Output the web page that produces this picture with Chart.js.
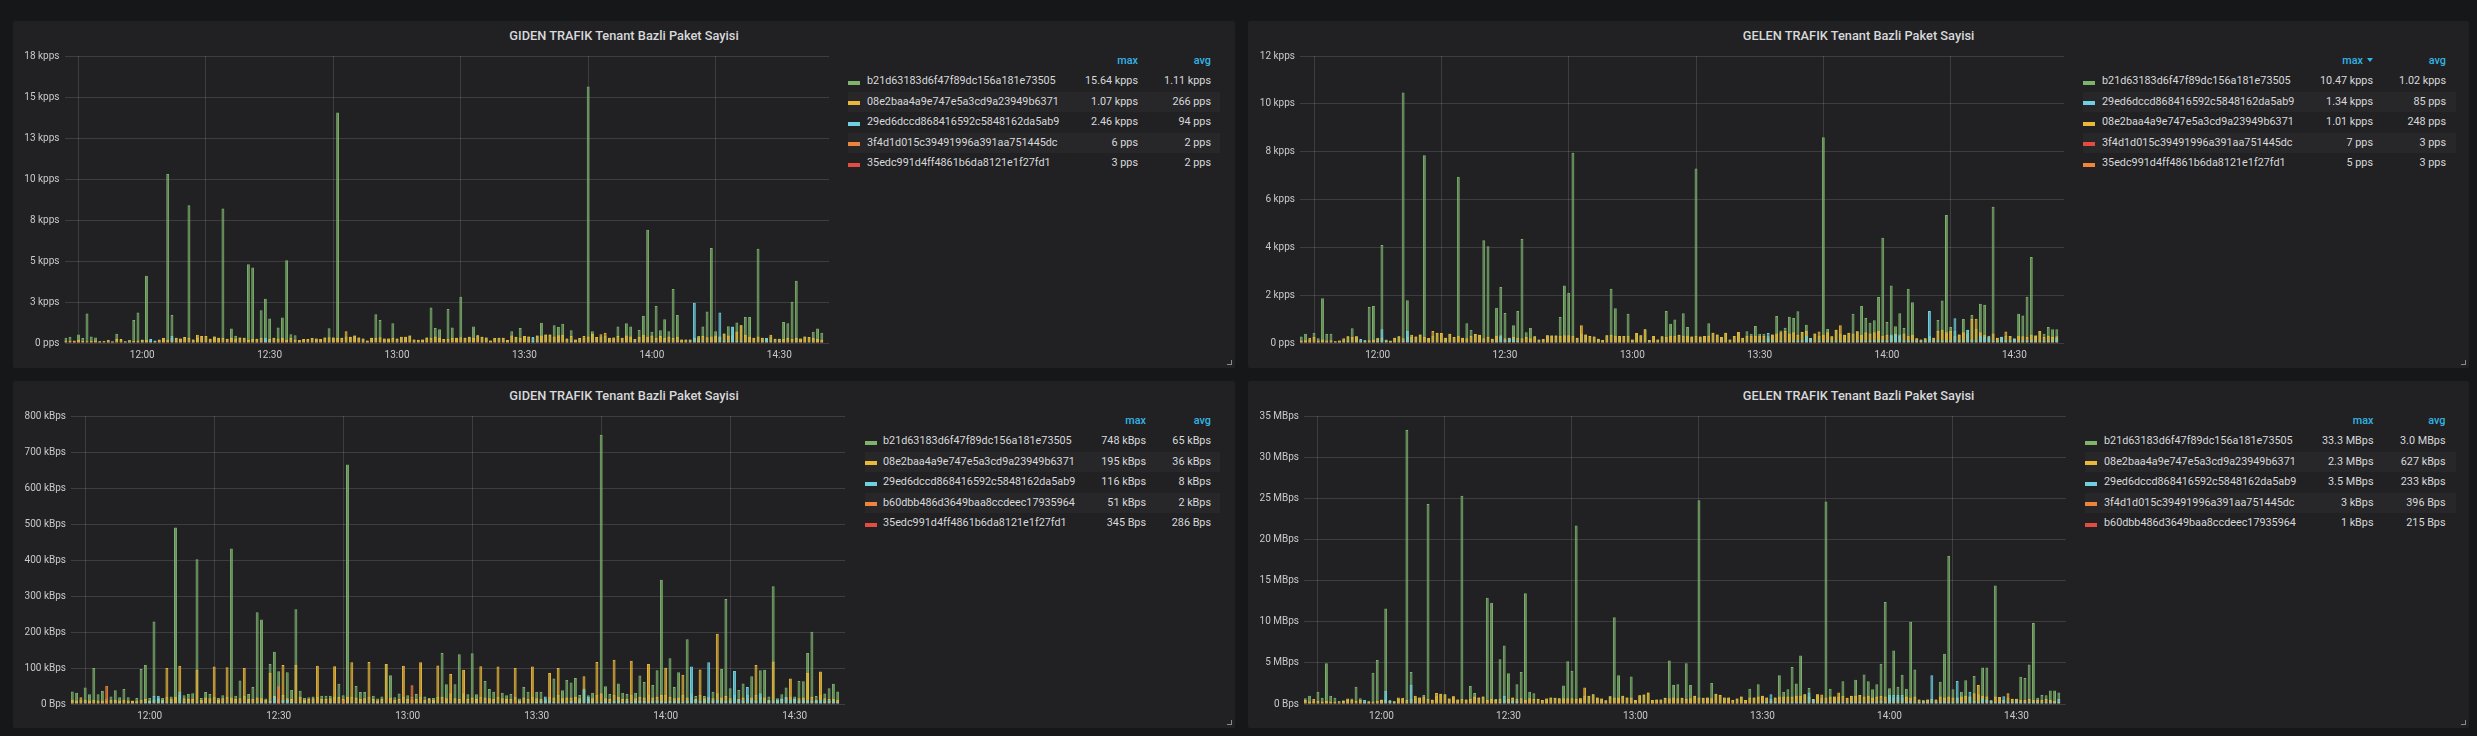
<!DOCTYPE html>
<html>
<head>
<meta charset="utf-8">
<title>Tenant Bazli Paket Sayisi</title>
<script src="https://cdn.jsdelivr.net/npm/chart.js@4.4.1/dist/chart.umd.min.js"></script>
<style>
  html,body{margin:0;padding:0;}
  body{width:2477px;height:736px;background:#161719;position:relative;overflow:hidden;font-family:Roboto,"Noto Sans",sans-serif;color:#d8d9da;}
  .panel{position:absolute;background:#212124;border-radius:2px;}
  .ptitle{position:absolute;left:0;right:0;text-align:center;font-size:12.8px;font-weight:500;color:#d8d9da;line-height:16px;white-space:nowrap;}
  .chart{position:absolute;}
  .lg{position:absolute;font-size:10.8px;line-height:14px;white-space:nowrap;color:#d8d9da;}
  .lg.r{text-align:right;width:200px;}
  .lh{color:#33b5e5;font-weight:500;}
  .rowbg{position:absolute;background:#27272a;height:20px;}
  .sw{position:absolute;width:12px;height:4px;}
  .rz{position:absolute;width:4px;height:4px;border-right:1px solid #8a8a8a;border-bottom:1px solid #8a8a8a;}
  .tri{display:inline-block;width:0;height:0;border-left:3.5px solid transparent;border-right:3.5px solid transparent;border-top:4px solid #33b5e5;margin-left:4px;vertical-align:2px;}
</style>
</head>
<body>
<script>
// ---------------- time axis ----------------
const startTime = '11:42';            // first bar (minute 0)
const xTickLabels = ['12:00','12:30','13:00','13:30','14:00','14:30'];

// ---------------- series names ----------------
const nB21 = 'b21d63183d6f47f89dc156a181e73505';
const n08e = '08e2baa4a9e747e5a3cd9a23949b6371';
const n29e = '29ed6dccd868416592c5848162da5ab9';
const n3f4 = '3f4d1d015c39491996a391aa751445dc';
const n35e = '35edc991d4ff4861b6da8121e1f27fd1';
const nB60 = 'b60dbb486d3649baa8ccdeec17935964';

// ================= Panel 1: GIDEN (pps) =================
const gidenPpsGreen = [
320,380,100,520,300,1800,400,340,120,140,
150,80,560,200,120,180,1400,1860,220,4100,
200,140,220,300,10300,1700,320,280,360,8400,
220,300,420,420,260,400,320,8200,260,880,
440,340,320,4800,4600,260,2000,2700,1500,320,
940,1560,5050,540,480,180,240,240,300,280,
240,340,900,340,14050,320,400,380,460,340,
280,160,320,1750,1400,280,280,1200,280,380,
380,460,220,200,220,340,2160,920,840,240,
2080,940,320,2820,320,380,1000,480,380,340,
160,300,320,320,180,720,380,920,420,400,
300,460,1240,520,520,1080,980,1180,280,780,
220,300,300,15640,720,360,400,450,320,340,
1000,320,1200,1000,240,800,1650,6900,680,2250,
780,1450,720,3300,1700,220,220,220,300,420,
1000,1920,5800,720,400,580,1020,1000,1250,1100,
1580,1580,320,5750,320,300,400,260,260,1280,
1200,2520,3800,280,400,360,680,880,620];
const gidenPpsYellow = [
150,120,150,200,120,100,120,150,90,110,
200,60,250,240,80,100,120,150,200,200,
120,100,200,300,200,300,320,280,360,300,
220,500,420,420,260,400,320,300,260,300,
280,340,320,200,250,260,300,200,250,320,
280,300,200,300,220,180,240,240,300,280,
240,340,350,340,300,320,720,380,460,340,
280,160,320,300,350,280,280,300,280,380,
380,460,220,200,220,340,300,400,300,240,
250,300,320,350,320,380,300,480,380,340,
160,300,320,320,180,450,380,300,420,400,
150,460,450,520,520,400,480,500,280,420,
220,300,420,400,550,360,540,620,320,340,
420,320,450,400,240,380,500,380,450,300,
420,300,400,300,380,220,220,220,300,350,
420,350,400,450,400,580,450,480,700,1070,
500,380,320,400,320,300,500,260,260,250,
300,250,300,280,400,360,300,250,200];
const gidenPpsBlue = [
50,40,60,50,40,50,40,50,60,50,
80,100,50,40,60,80,50,60,100,80,
240,150,80,60,50,420,100,60,50,50,
60,50,40,50,60,50,60,50,40,50,
80,60,50,40,50,60,100,320,120,60,
80,60,50,40,50,60,50,40,50,60,
50,40,60,50,40,50,60,50,40,50,
80,60,50,40,50,60,50,40,50,60,
50,40,60,50,40,50,60,50,40,50,
60,50,40,50,60,50,40,50,60,50,
40,50,60,50,40,50,60,50,40,80,
360,100,60,50,40,60,100,50,60,120,
50,60,80,60,100,50,80,60,50,60,
50,60,80,60,100,80,60,80,100,60,
80,100,60,80,100,60,80,100,2460,120,
100,80,60,100,1860,120,100,980,120,100,
100,80,60,50,100,300,100,80,120,60,
80,60,100,50,60,50,60,80,60];
const gidenPpsOrange = [
2,2,1,2,3,2,2,1,2,2,
2,3,2,1,2,2,2,3,2,2,
1,2,2,2,3,2,2,1,2,2,
2,2,3,2,1,2,2,2,2,3,
2,1,2,2,2,2,3,2,2,1,
2,2,2,3,2,2,1,2,2,2,
6,2,2,1,2,2,3,2,2,2,
1,2,2,2,3,2,2,1,2,2,
2,3,2,2,1,2,2,2,2,3,
2,2,1,2,2,2,3,2,2,2,
1,2,2,3,2,2,2,1,2,2,
3,2,2,2,1,2,2,2,3,2,
2,1,2,2,2,3,2,2,1,2,
2,2,3,2,2,2,1,2,2,2,
3,2,2,1,2,2,2,3,2,2,
2,1,2,2,3,2,2,2,1,2,
2,2,3,2,2,1,2,2,2,2,
3,2,2,1,2,2,2,2,2];
const gidenPpsRed = [
2,2,2,1,2,2,3,2,2,2,
1,2,2,2,2,3,2,2,1,2,
2,2,2,3,2,2,2,1,2,2,
2,3,2,2,2,2,1,2,2,2,
3,2,2,2,1,2,2,2,2,3,
2,2,1,2,2,2,3,2,2,2,
2,1,2,2,3,2,2,2,2,1,
2,2,3,2,2,2,1,2,2,2,
2,3,2,2,1,2,2,2,3,2,
2,2,1,2,2,3,2,2,2,2,
1,2,2,2,3,2,2,2,1,2,
2,3,2,2,2,1,2,2,2,3,
2,2,2,1,2,2,3,2,2,2,
1,2,2,2,3,2,2,1,2,2,
2,2,3,2,2,2,1,2,2,3,
2,2,2,1,2,2,2,3,2,2,
1,2,2,2,3,2,2,2,1,2,
2,3,2,2,2,1,2,2,2];
const gidenPpsTicks  = [0,2500,5000,7500,10000,12500,15000,17500];
const gidenPpsTickLabels = ['0 pps','3 kpps','5 kpps','8 kpps','10 kpps','13 kpps','15 kpps','18 kpps'];
const gidenPpsLegendNames = [nB21, n08e, n29e, n3f4, n35e];
const gidenPpsLegendMax = ['15.64 kpps','1.07 kpps','2.46 kpps','6 pps','3 pps'];
const gidenPpsLegendAvg = ['1.11 kpps','266 pps','94 pps','2 pps','2 pps'];

// ================= Panel 2: GELEN (pps) =================
const gelenPpsGreen = [
270,390,150,430,200,1870,390,390,80,100,
150,280,620,280,120,130,1510,1550,220,4100,
150,100,220,280,10470,1790,250,270,360,7850,
210,300,430,420,220,390,250,6950,220,830,
550,380,340,4300,4050,180,1470,2340,1250,220,
740,1340,4350,450,630,280,150,170,320,320,
320,1090,2400,2100,7950,220,400,360,290,270,
180,130,320,2270,1450,290,290,1220,150,420,
320,570,130,290,150,280,1340,810,980,350,
1240,670,270,7300,270,290,830,430,360,250,
430,150,290,460,220,490,390,710,390,390,
300,360,1130,520,640,1100,1050,1330,460,760,
210,400,300,8600,590,280,550,400,350,430,
1220,490,1550,1050,850,950,1920,4400,880,2400,
700,1240,630,2270,1700,200,150,200,300,220,
960,1780,5350,670,500,360,1000,550,1170,600,
1640,1600,240,5700,220,260,300,290,180,1220,
1150,1930,3600,320,500,390,670,570,570];
const gelenPpsYellow = [
100,120,220,250,100,150,100,120,60,100,
200,280,250,280,60,100,120,150,200,220,
120,80,220,280,200,250,350,270,360,250,
210,500,430,420,220,390,250,300,220,200,
300,380,340,200,250,180,300,280,200,220,
250,220,200,250,200,280,150,170,320,300,
300,300,320,320,300,220,740,360,290,270,
180,130,320,350,300,290,290,300,150,420,
320,570,130,290,150,280,250,300,300,350,
300,300,270,300,270,290,300,430,360,250,
430,150,290,460,220,300,300,300,300,300,
200,360,400,450,500,400,450,350,460,500,
210,400,480,350,450,280,550,740,350,430,
400,490,350,450,400,450,500,300,350,300,
380,300,400,300,350,200,150,200,250,220,
500,550,450,500,300,360,450,400,1000,1010,
450,350,240,400,220,260,480,290,180,300,
280,250,350,300,500,250,300,250,280];
const gelenPpsBlue = [
40,50,40,50,40,60,50,40,50,40,
60,80,50,60,170,80,50,60,80,570,
120,60,50,60,80,500,100,60,50,60,
50,60,40,50,60,50,60,50,40,50,
60,50,60,50,60,50,100,320,120,200,
180,100,60,50,40,50,60,50,40,50,
60,50,60,50,40,50,60,50,40,50,
60,50,40,50,60,50,40,50,60,50,
40,50,60,50,40,50,60,50,40,50,
60,50,40,50,60,50,40,50,60,50,
40,50,60,50,40,50,60,50,80,100,
420,100,60,80,50,60,100,80,120,300,
200,60,80,60,100,60,100,80,60,80,
60,80,100,80,100,120,100,120,100,360,
360,360,100,120,100,80,80,100,1340,100,
120,100,80,100,1030,120,100,550,150,120,
300,250,300,80,100,250,120,100,200,80,
100,80,120,80,60,80,100,80,220];
const gelenPpsRed = [
3,3,2,3,4,3,3,2,3,3,
3,4,3,2,3,3,3,4,3,3,
2,3,3,3,4,3,3,2,3,3,
3,3,4,3,2,3,3,3,3,4,
3,2,3,3,3,3,4,3,3,2,
3,3,3,4,3,3,2,3,3,3,
7,3,3,2,3,3,4,3,3,3,
2,3,3,3,4,3,3,2,3,3,
3,4,3,3,2,3,3,3,3,4,
3,3,2,3,3,3,4,3,3,3,
2,3,3,4,3,3,3,2,3,3,
4,3,3,3,2,3,3,3,4,3,
3,2,3,3,3,4,3,3,2,3,
3,3,4,3,3,3,2,3,3,3,
4,3,3,2,3,3,3,4,3,3,
3,2,3,3,4,3,3,3,2,3,
3,3,4,3,3,2,3,3,3,3,
4,3,3,2,3,3,3,3,3];
const gelenPpsOrange = [
3,3,3,2,3,3,4,3,3,3,
2,3,3,3,3,4,3,3,2,3,
3,3,3,4,3,3,3,2,3,3,
3,4,3,3,3,3,2,3,3,3,
4,3,3,3,2,3,3,3,3,4,
3,3,2,3,3,3,5,3,3,3,
3,2,3,3,4,3,3,3,3,2,
3,3,4,3,3,3,2,3,3,3,
3,4,3,3,2,3,3,3,4,3,
3,3,2,3,3,4,3,3,3,3,
2,3,3,3,4,3,3,3,2,3,
3,4,3,3,3,2,3,3,3,4,
3,3,3,2,3,3,4,3,3,3,
2,3,3,3,4,3,3,2,3,3,
3,3,4,3,3,3,2,3,3,4,
3,3,3,2,3,3,3,4,3,3,
2,3,3,3,4,3,3,3,2,3,
3,4,3,3,3,2,3,3,3];
const gelenPpsTicks = [0,2000,4000,6000,8000,10000,12000];
const gelenPpsTickLabels = ['0 pps','2 kpps','4 kpps','6 kpps','8 kpps','10 kpps','12 kpps'];
const gelenPpsLegendNames = [nB21, n29e, n08e, n3f4, n35e];
const gelenPpsLegendMax = ['10.47 kpps','1.34 kpps','1.01 kpps','7 pps','5 pps'];
const gelenPpsLegendAvg = ['1.02 kpps','85 pps','248 pps','3 pps','3 pps'];

// ================= Panel 3: GIDEN (kBps) =================
const gidenBpsGreen = [
35,31,12,46,27,100,27,36,15,21,
38,19,42,19,10,17,97,108,17,229,
18,17,20,21,490,25,24,28,30,402,
17,33,28,20,17,24,20,432,23,65,
22,28,47,255,235,15,111,145,91,25,
88,39,263,37,17,19,21,20,23,23,
23,20,56,24,665,20,50,33,33,20,
23,15,21,111,80,19,29,20,24,20,
28,20,21,17,17,20,142,55,30,55,
138,30,27,141,27,20,64,42,34,20,
31,24,28,20,15,47,34,20,34,34,
15,20,71,25,38,67,60,72,25,43,
24,31,25,748,49,28,25,57,31,28,
25,31,79,61,25,53,94,345,25,127,
47,88,25,180,30,22,25,22,20,34,
30,97,292,44,25,39,57,25,77,25,
94,95,21,327,16,27,46,20,21,64,
63,142,201,22,25,29,44,56,35];
const gidenBpsYellow = [
12,10,19,12,10,12,10,10,8,12,
12,10,12,10,8,10,12,14,10,12,
14,12,100,15,20,106,16,14,14,95,
12,18,16,104,12,16,102,18,14,16,
100,14,14,18,16,12,87,22,15,108,
16,14,108,20,12,14,16,106,14,14,
16,105,20,14,20,116,18,14,16,117,
14,10,14,111,18,12,14,106,14,12,
14,116,12,14,12,107,20,16,83,16,
14,95,14,18,14,105,18,16,14,104,
16,14,14,100,10,18,14,104,16,14,
10,86,18,100,16,18,18,20,16,77,
14,16,117,30,16,14,123,20,14,14,
120,16,20,18,111,18,20,25,101,20,
16,18,81,18,20,14,96,16,18,16,
195,18,22,16,18,14,18,16,18,108,
20,18,12,118,10,14,18,71,14,16,
18,86,20,12,90,16,14,14,12];
const gidenBpsBlue = [
3,4,3,5,3,4,3,4,3,4,
5,4,3,4,3,5,4,6,8,22,
23,8,5,6,4,35,6,5,4,5,
4,5,4,5,4,5,4,5,4,5,
6,5,4,5,6,4,8,20,10,12,
12,6,5,4,5,4,5,4,5,4,
5,4,5,4,5,4,5,4,5,4,
5,4,5,4,5,4,5,4,5,4,
5,4,5,4,5,4,5,4,5,4,
5,4,5,4,5,4,5,4,5,4,
5,4,5,4,5,4,5,4,6,8,
21,8,6,5,6,5,8,6,10,40,
20,6,5,6,8,6,8,10,6,8,
6,8,10,8,6,8,10,8,6,8,
10,8,6,10,104,12,8,10,116,10,
12,10,8,10,92,12,10,47,12,10,
30,10,8,10,12,15,20,12,15,10,
12,10,8,10,12,10,8,10,6];
const gidenBpsOrange = [
0.8,1.2,0.9,1.1,0.7,1.0,1.3,0.9,51,1.0,
0.8,1.1,0.9,1.2,0.7,1.0,0.9,1.1,1.0,0.8,
1.2,0.9,1.0,1.1,0.8,1.0,0.9,1.2,1.0,0.8,
1.1,0.9,1.0,0.8,1.2,1.0,0.9,1.1,0.8,1.0,
0.9,1.2,1.0,0.8,1.1,0.9,1.0,1.2,49,1.0,
0.8,1.1,0.9,1.0,1.2,0.8,1.0,0.9,1.1,1.0,
0.8,1.2,0.9,12,1.0,1.1,0.8,1.0,0.9,1.2,
1.0,0.8,1.1,0.9,1.0,1.2,0.8,1.0,0.9,52,
1.0,0.8,1.2,0.9,1.0,1.1,0.8,1.0,0.9,1.2,
1.0,0.8,1.1,0.9,1.0,1.2,0.8,1.0,0.9,1.1,
1.0,0.8,1.2,8,1.0,1.1,0.8,1.0,0.9,1.2,
1.0,0.8,1.1,0.9,1.0,1.2,0.8,1.0,0.9,1.1,
1.0,0.8,1.2,0.9,1.0,1.1,0.8,1.0,0.9,1.2,
1.0,0.8,1.1,0.9,1.0,1.2,0.8,1.0,0.9,1.1,
1.0,0.8,1.2,0.9,1.0,1.1,0.8,1.0,0.9,1.2,
1.0,0.8,1.1,0.9,1.0,1.2,0.8,1.0,0.9,1.1,
1.0,0.8,1.2,0.9,1.0,1.1,0.8,1.0,0.9,1.2,
1.0,0.8,1.1,0.9,1.0,1.2,0.8,1.0,0.9];
const gidenBpsRed = [
0.28,0.29,0.30,0.27,0.28,0.31,0.29,0.28,0.30,0.27,
0.29,0.28,0.30,0.29,0.27,0.28,0.31,0.29,0.28,0.30,
0.27,0.29,0.28,0.30,0.29,0.27,0.28,0.31,0.29,0.28,
0.30,0.27,0.29,0.28,0.30,0.29,0.27,0.28,0.31,0.29,
0.28,0.30,0.27,0.29,0.28,0.30,0.29,0.27,0.28,0.31,
0.29,0.28,0.30,0.27,0.29,0.28,0.30,0.29,0.27,0.28,
0.31,0.29,0.28,0.30,0.27,0.29,0.28,0.345,0.29,0.27,
0.28,0.31,0.29,0.28,0.30,0.27,0.29,0.28,0.30,0.29,
0.27,0.28,0.31,0.29,0.28,0.30,0.27,0.29,0.28,0.30,
0.29,0.27,0.28,0.31,0.29,0.28,0.30,0.27,0.29,0.28,
0.30,0.29,0.27,0.28,0.31,0.29,0.28,0.30,0.27,0.29,
0.28,0.30,0.29,0.27,0.28,0.31,0.29,0.28,0.30,0.27,
0.29,0.28,0.30,0.29,0.27,0.28,0.31,0.29,0.28,0.30,
0.27,0.29,0.28,0.30,0.29,0.27,0.28,0.31,0.29,0.28,
0.30,0.27,0.29,0.28,0.30,0.29,0.27,0.28,0.31,0.29,
0.28,0.30,0.27,0.29,0.28,0.30,0.29,0.27,0.28,0.31,
0.29,0.28,0.30,0.27,0.29,0.28,0.30,0.29,0.27,0.28,
0.31,0.29,0.28,0.30,0.27,0.29,0.28,0.30,0.29];
const gidenBpsTicks = [0,100,200,300,400,500,600,700,800];
const gidenBpsTickLabels = ['0 Bps','100 kBps','200 kBps','300 kBps','400 kBps','500 kBps','600 kBps','700 kBps','800 kBps'];
const gidenBpsLegendNames = [nB21, n08e, n29e, nB60, n35e];
const gidenBpsLegendMax = ['748 kBps','195 kBps','116 kBps','51 kBps','345 Bps'];
const gidenBpsLegendAvg = ['65 kBps','36 kBps','8 kBps','2 kBps','286 Bps'];

// ================= Panel 4: GELEN (kBps) =================
const gelenBpsGreen = [
700,1000,400,1500,750,4950,1000,750,350,450,
500,670,2100,700,300,400,3800,5350,550,11600,
450,350,600,600,33300,3900,800,800,1100,24300,
550,1000,1250,1200,670,950,550,25300,550,2200,
1350,800,900,12900,12300,600,5450,7100,3750,800,
2400,3900,13450,1500,1300,630,500,670,800,750,
700,2250,5200,4050,21700,700,1000,1000,1200,800,
670,450,950,10550,3500,1000,800,3350,500,1050,
1150,1400,500,550,550,750,5300,2300,2400,750,
4950,2300,1000,24750,750,800,2550,1250,1100,800,
800,500,670,900,500,1850,800,2400,1000,800,
600,800,3500,1500,1800,4500,2500,5900,1200,1950,
600,1200,800,24600,1850,900,900,2750,750,1000,
2950,1100,3600,2750,1800,2400,4900,12400,1900,6500,
2100,3550,1850,10000,4200,550,450,550,600,550,
2700,6100,18000,1800,800,1500,2900,900,3400,1200,
4450,4450,450,14400,850,500,800,650,650,3300,
3150,4800,9850,750,1100,1050,1650,1650,1400];
const gelenBpsYellow = [
500,300,600,400,300,350,300,300,200,350,
670,500,400,500,200,250,300,400,500,500,
350,300,800,750,500,600,1000,800,900,600,
500,1350,1250,1200,670,950,550,600,550,600,
900,800,900,500,600,500,600,500,600,800,
600,700,500,700,600,630,500,670,800,750,
700,700,700,700,600,700,2000,1000,1200,800,
670,450,950,800,800,1000,800,800,500,1050,
1150,1400,500,550,550,750,700,800,700,750,
600,700,1000,800,750,800,700,1250,1100,800,
800,500,670,900,500,800,800,900,1000,800,
400,800,900,900,900,900,1000,1000,1200,900,
600,1200,1150,800,900,900,1400,1000,750,1000,
1000,1100,900,1000,800,900,1000,900,900,800,
900,800,900,800,900,550,450,550,600,550,
900,800,900,800,800,900,1000,900,1300,2300,
1000,900,450,900,850,500,1300,650,650,500,
500,600,500,500,500,600,500,400,300];
const gelenBpsBlue = [
100,120,100,150,100,120,100,120,100,150,
120,150,100,120,500,150,120,150,200,1600,
450,200,150,120,200,2350,200,150,120,150,
120,150,120,150,120,150,120,150,120,150,
150,120,150,120,150,120,300,1000,300,400,
400,200,150,120,150,120,150,120,150,120,
150,120,150,120,150,120,150,120,150,120,
150,120,150,120,150,120,150,120,150,120,
150,120,150,120,150,120,150,120,150,120,
150,120,150,120,150,120,150,120,150,120,
150,120,150,120,150,120,150,120,200,300,
1200,300,200,250,200,300,250,300,300,1400,
500,200,300,200,250,200,300,250,200,300,
250,300,200,300,250,300,400,300,1100,1100,
1100,1100,300,400,300,250,300,250,3500,250,
300,400,300,250,2800,300,250,1500,350,300,
600,500,400,250,300,950,300,250,400,250,
300,250,300,250,200,250,300,250,600];
const gelenBpsOrange = [
0.4,0.3,0.5,0.4,0.3,0.4,0.5,0.3,0.4,0.4,
0.3,0.5,0.4,0.3,0.4,0.4,0.5,0.3,0.4,0.3,
0.4,0.5,0.3,0.4,0.4,0.3,0.5,0.4,0.3,0.4,
0.4,0.3,0.5,0.4,0.3,0.4,0.4,0.5,0.3,0.4,
0.3,0.4,0.5,0.3,0.4,0.4,0.3,0.5,0.4,0.3,
0.4,0.4,0.5,0.3,0.4,0.3,0.4,0.5,0.3,0.4,
0.4,0.3,0.5,0.4,3,0.4,0.4,0.5,0.3,0.4,
0.3,0.4,0.5,0.3,0.4,0.4,0.3,0.5,0.4,0.3,
0.4,0.4,0.5,0.3,0.4,0.3,0.4,0.5,0.3,0.4,
0.4,0.3,0.5,0.4,0.3,0.4,0.4,0.5,0.3,0.4,
0.3,0.4,0.5,0.3,0.4,0.4,0.3,0.5,0.4,0.3,
0.4,0.4,0.5,0.3,0.4,0.3,0.4,0.5,0.3,0.4,
0.4,0.3,0.5,0.4,0.3,0.4,0.4,0.5,0.3,0.4,
0.3,0.4,0.5,0.3,0.4,0.4,0.3,0.5,0.4,0.3,
0.4,0.4,0.5,0.3,0.4,0.3,0.4,0.5,0.3,0.4,
0.4,0.3,0.5,0.4,0.3,0.4,0.4,0.5,0.3,0.4,
0.3,0.4,0.5,0.3,0.4,0.4,0.3,0.5,0.4,0.3,
0.4,0.4,0.5,0.3,0.4,0.3,0.4,0.5,0.3];
const gelenBpsRed = [
0.2,0.2,0.3,0.2,0.1,0.2,0.2,0.3,0.2,0.2,
0.1,0.2,0.3,0.2,0.2,0.2,0.1,0.3,0.2,0.2,
0.2,0.3,0.2,0.1,0.2,0.2,0.3,0.2,0.2,0.1,
0.2,0.3,0.2,0.2,0.2,0.1,0.3,0.2,0.2,0.2,
0.3,0.2,0.1,0.2,0.2,0.3,0.2,0.2,0.1,0.2,
0.3,0.2,0.2,0.2,0.1,0.3,0.2,0.2,0.2,0.3,
0.2,0.1,0.2,0.2,0.3,0.2,0.2,1.0,0.2,0.3,
0.2,0.2,0.2,0.1,0.3,0.2,0.2,0.2,0.3,0.2,
0.1,0.2,0.2,0.3,0.2,0.2,0.1,0.2,0.3,0.2,
0.2,0.2,0.1,0.3,0.2,0.2,0.2,0.3,0.2,0.1,
0.2,0.2,0.3,0.2,0.2,0.1,0.2,0.3,0.2,0.2,
0.2,0.1,0.3,0.2,0.2,0.2,0.3,0.2,0.1,0.2,
0.2,0.3,0.2,0.2,0.1,0.2,0.3,0.2,0.2,0.2,
0.1,0.3,0.2,0.2,0.2,0.3,0.2,0.1,0.2,0.2,
0.3,0.2,0.2,0.1,0.2,0.3,0.2,0.2,0.2,0.1,
0.3,0.2,0.2,0.2,0.3,0.2,0.1,0.2,0.2,0.3,
0.2,0.2,0.1,0.2,0.3,0.2,0.2,0.2,0.1,0.3,
0.2,0.2,0.2,0.3,0.2,0.1,0.2,0.2,0.3];
const gelenBpsTicks = [0,5000,10000,15000,20000,25000,30000,35000];
const gelenBpsTickLabels = ['0 Bps','5 MBps','10 MBps','15 MBps','20 MBps','25 MBps','30 MBps','35 MBps'];
const gelenBpsLegendNames = [nB21, n08e, n29e, n3f4, nB60];
const gelenBpsLegendMax = ['33.3 MBps','2.3 MBps','3.5 MBps','3 kBps','1 kBps'];
const gelenBpsLegendAvg = ['3.0 MBps','627 kBps','233 kBps','396 Bps','215 Bps'];

// ---------------- colours ----------------
const cGreen = '#7EB26D', cYellow = '#EAB839', cCyan = '#6ED0E0', cOrange = '#EF843C', cRed = '#E24D42';
const colorOf = {[nB21]: cGreen, [n08e]: cYellow, [n29e]: cCyan};

// ---------------- helpers ----------------
function toMin(hhmm){ const a = hhmm.split(':').map(Number), b = startTime.split(':').map(Number); return (a[0]*60+a[1]) - (b[0]*60+b[1]); }
function rgba(hex, a){ const n = parseInt(hex.slice(1),16); return `rgba(${(n>>16)&255},${(n>>8)&255},${n&255},${a})`; }
const gridColor = 'rgba(255,255,255,0.13)';
const tickColor = '#c8c9ca';
const tickFont = {family:'Roboto', size:10};

function el(cls, css, html){ const d = document.createElement('div'); d.className = cls; Object.assign(d.style, css); if (html !== undefined) d.innerHTML = html; document.body.appendChild(d); return d; }

function buildPanel(p, title, series, yTicks, yLabels, legend){
  el('panel', {left:p.left+'px', top:p.top+'px', width:p.w+'px', height:p.h+'px'});
  el('ptitle', {left:p.left+'px', width:p.w+'px', right:'auto', top:(p.top+7)+'px'}, title);
  el('rz', {left:(p.left+p.w-8)+'px', top:(p.top+p.h-8)+'px'});

  const cLeft = p.left, cTop = p.top + 20;
  const cW = Math.round(p.plotR - cLeft + 8), cH = p.top + p.h - cTop;
  const cv = document.createElement('canvas');
  cv.className = 'chart'; cv.width = cW; cv.height = cH;
  Object.assign(cv.style, {left:cLeft+'px', top:cTop+'px', width:cW+'px', height:cH+'px'});
  document.body.appendChild(cv);
  const yAxisW = p.plotL - cLeft, xAxisH = p.top + p.h - p.plotB;
  const n = series.length;
  new Chart(cv.getContext('2d'), {
    type: 'bar',
    data: { datasets: series.map((s, si) => ({
      label: s.name,
      data: s.values.map((v, i) => ({x: i, y: v})),
      backgroundColor: rgba(s.color, 0.82),
      borderColor: s.color,
      borderWidth: 1,
      borderSkipped: 'start',
      order: n - si,
      grouped: false,
      barPercentage: 0.68,
      categoryPercentage: 1
    }))},
    options: {
      responsive: false, animation: false, devicePixelRatio: 1,
      layout: {padding: {top: p.plotT - cTop, right: 8, left: 0, bottom: 0}},
      plugins: {legend: {display: false}, tooltip: {enabled: false}},
      scales: {
        x: {
          type: 'linear', min: -0.3, max: 179.7, offset: false,
          afterBuildTicks: sc => { sc.ticks = xTickLabels.map(l => ({value: toMin(l)})); },
          afterFit: sc => { sc.height = xAxisH; },
          ticks: {autoSkip: false, maxRotation: 0, color: tickColor, font: tickFont, padding: 6,
                  callback: (v, i) => xTickLabels[i]},
          grid: {color: gridColor, drawTicks: false, lineWidth: 1},
          border: {display: false}
        },
        y: {
          min: 0, max: yTicks[yTicks.length - 1],
          afterBuildTicks: sc => { sc.ticks = yTicks.map(v => ({value: v})); },
          afterFit: sc => { sc.width = yAxisW; },
          ticks: {color: tickColor, font: tickFont, padding: 5, callback: (v, i) => yLabels[i]},
          grid: {color: gridColor, drawTicks: false, lineWidth: 1},
          border: {display: false}
        }
      }
    }
  });

  // legend table
  const L = p.legend;
  const hy = p.top + 40;
  el('lg r lh', {left:(L.maxR-200)+'px', top:(hy-7)+'px'}, legend.sortMax ? 'max<span class="tri"></span>' : 'max');
  el('lg r lh', {left:(L.avgR-200)+'px', top:(hy-7)+'px'}, 'avg');
  legend.names.forEach((nm, i) => {
    const cy = p.top + 60 + 20.5 * i;
    if (i % 2 === 1) el('rowbg', {left:L.sw+'px', width:(L.bgR-L.sw)+'px', top:(cy-10)+'px'});
    el('sw', {left:L.sw+'px', top:(cy-0.5)+'px', background:legend.colors[i]});
    el('lg', {left:L.tx+'px', top:(cy-7)+'px'}, nm);
    el('lg r', {left:(L.maxR-200)+'px', top:(cy-7)+'px'}, legend.max[i]);
    el('lg r', {left:(L.avgR-200)+'px', top:(cy-7)+'px'}, legend.avg[i]);
  });
}

// ---------------- layout (page pixels) ----------------
const P1 = {left:13, top:21, w:1222, h:347, plotL:64.5, plotR:829, plotT:56, plotB:343, legend:{sw:848, tx:867, maxR:1138, avgR:1211, bgR:1220}};
const P2 = {left:1248, top:21, w:1221, h:347, plotL:1300, plotR:2064, plotT:56, plotB:343, legend:{sw:2083, tx:2102, maxR:2373, avgR:2446, bgR:2456}};
const P3 = {left:13, top:381, w:1222, h:347, plotL:71, plotR:845, plotT:416, plotB:704, legend:{sw:864.5, tx:883, maxR:1146, avgR:1211, bgR:1220}};
const P4 = {left:1248, top:381, w:1221, h:347, plotL:1304, plotR:2066, plotT:416, plotB:704, legend:{sw:2085, tx:2104, maxR:2373.5, avgR:2445.5, bgR:2456}};

buildPanel(P1, 'GIDEN TRAFIK Tenant Bazli Paket Sayisi', [
  {name:nB21, color:cGreen, values:gidenPpsGreen},
  {name:n08e, color:cYellow, values:gidenPpsYellow},
  {name:n29e, color:cCyan, values:gidenPpsBlue},
  {name:n3f4, color:cOrange, values:gidenPpsOrange},
  {name:n35e, color:cRed, values:gidenPpsRed}
], gidenPpsTicks, gidenPpsTickLabels,
 {names:gidenPpsLegendNames, colors:[cGreen,cYellow,cCyan,cOrange,cRed], max:gidenPpsLegendMax, avg:gidenPpsLegendAvg});

buildPanel(P2, 'GELEN TRAFIK Tenant Bazli Paket Sayisi', [
  {name:nB21, color:cGreen, values:gelenPpsGreen},
  {name:n08e, color:cYellow, values:gelenPpsYellow},
  {name:n29e, color:cCyan, values:gelenPpsBlue},
  {name:n3f4, color:cRed, values:gelenPpsRed},
  {name:n35e, color:cOrange, values:gelenPpsOrange}
], gelenPpsTicks, gelenPpsTickLabels,
 {names:gelenPpsLegendNames, colors:[cGreen,cCyan,cYellow,cRed,cOrange], max:gelenPpsLegendMax, avg:gelenPpsLegendAvg, sortMax:true});

buildPanel(P3, 'GIDEN TRAFIK Tenant Bazli Paket Sayisi', [
  {name:nB21, color:cGreen, values:gidenBpsGreen},
  {name:n08e, color:cYellow, values:gidenBpsYellow},
  {name:n29e, color:cCyan, values:gidenBpsBlue},
  {name:nB60, color:cOrange, values:gidenBpsOrange},
  {name:n35e, color:cRed, values:gidenBpsRed}
], gidenBpsTicks, gidenBpsTickLabels,
 {names:gidenBpsLegendNames, colors:[cGreen,cYellow,cCyan,cOrange,cRed], max:gidenBpsLegendMax, avg:gidenBpsLegendAvg});

buildPanel(P4, 'GELEN TRAFIK Tenant Bazli Paket Sayisi', [
  {name:nB21, color:cGreen, values:gelenBpsGreen},
  {name:n08e, color:cYellow, values:gelenBpsYellow},
  {name:n29e, color:cCyan, values:gelenBpsBlue},
  {name:n3f4, color:cOrange, values:gelenBpsOrange},
  {name:nB60, color:cRed, values:gelenBpsRed}
], gelenBpsTicks, gelenBpsTickLabels,
 {names:gelenBpsLegendNames, colors:[cGreen,cYellow,cCyan,cOrange,cRed], max:gelenBpsLegendMax, avg:gelenBpsLegendAvg});
</script>
</body>
</html>
